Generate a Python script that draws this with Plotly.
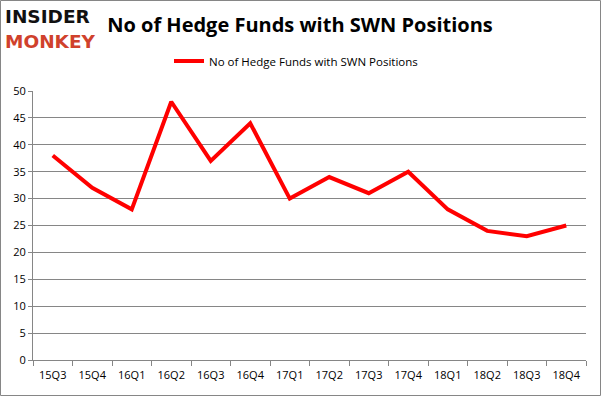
import plotly.graph_objects as go

quarters = ["15Q3", "15Q4", "16Q1", "16Q2", "16Q3", "16Q4", "17Q1",
            "17Q2", "17Q3", "17Q4", "18Q1", "18Q2", "18Q3", "18Q4"]
hedge_funds = [38, 32, 28, 48, 37, 44, 30, 34, 31, 35, 28, 24, 23, 25]
series_name = "No of Hedge Funds with SWN Positions"
title_text = "No of Hedge Funds with SWN Positions"
y_ticks = list(range(0, 51, 5))

W, H = 601, 396
ML, MR, MT, MB = 33, 15, 91, 36
pw = W - ML - MR
ph = H - MT - MB


def cy(p):
    return 1 - p / H


def cx(p):
    return p / W


def px_x(p):
    return (p - ML) / pw


def px_y(p):
    return (H - MB - p) / ph


fig = go.Figure()
fig.add_trace(go.Scatter(
    x=quarters, y=hedge_funds, mode="lines", name=series_name,
    line=dict(color="#ff0000", width=4), showlegend=True,
))

grid = "#868686"
fig.update_layout(
    width=W, height=H,
    margin=dict(l=ML, r=MR, t=MT, b=MB, autoexpand=False),
    paper_bgcolor="white", plot_bgcolor="white",
    font=dict(family="Open Sans", size=11, color="#000000"),
    title=dict(text="<b>" + title_text + "</b>", x=cx(300), xanchor="center", xref="container",
               y=cy(25), yanchor="middle", yref="container",
               font=dict(family="Open Sans", size=20, color="#000000")),
    legend=dict(orientation="h", x=cx(296), xanchor="center", xref="container",
                y=cy(61), yanchor="middle", yref="container",
                font=dict(family="Open Sans", size=11.5), bgcolor="rgba(0,0,0,0)"),
    xaxis=dict(
        type="category", showgrid=False, showline=True, linecolor=grid, linewidth=1,
        ticks="outside", tickson="boundaries", ticklen=5, tickcolor=grid,
        ticklabelstandoff=5,
        tickfont=dict(family="Open Sans", size=11), zeroline=False, automargin=False,
        range=[-0.5, len(quarters) - 0.5],
    ),
    yaxis=dict(
        range=[0, 50], tickvals=y_ticks, showgrid=True, gridcolor=grid, gridwidth=1,
        showline=True, linecolor=grid, linewidth=1, ticks="outside", ticklen=4,
        tickcolor=grid, zeroline=False, automargin=False,
        tickfont=dict(family="Open Sans", size=11),
    ),
    shapes=[dict(type="rect", xref="paper", yref="paper",
                 x0=px_x(0.5), x1=px_x(600.5), y0=px_y(0.5), y1=px_y(395.5),
                 line=dict(color="#868686", width=1), fillcolor="rgba(0,0,0,0)",
                 layer="above")],
    annotations=[
        dict(text="<b>INSIDER</b>", xref="paper", yref="paper", x=px_x(4), y=px_y(5),
             xanchor="left", yanchor="top", showarrow=False, borderpad=0,
             font=dict(family="DejaVu Sans", size=18.5, color="#111111")),
        dict(text="<b>MONKEY</b>", xref="paper", yref="paper", x=px_x(4), y=px_y(53),
             xanchor="left", yanchor="bottom", showarrow=False, borderpad=0,
             font=dict(family="DejaVu Sans", size=18.5, color="#d0412c")),
    ],
)

fig.write_html(
    "out.html",
    config={"displayModeBar": False},
    post_script="document.body.style.margin='0';document.body.style.overflow='hidden';",
)
